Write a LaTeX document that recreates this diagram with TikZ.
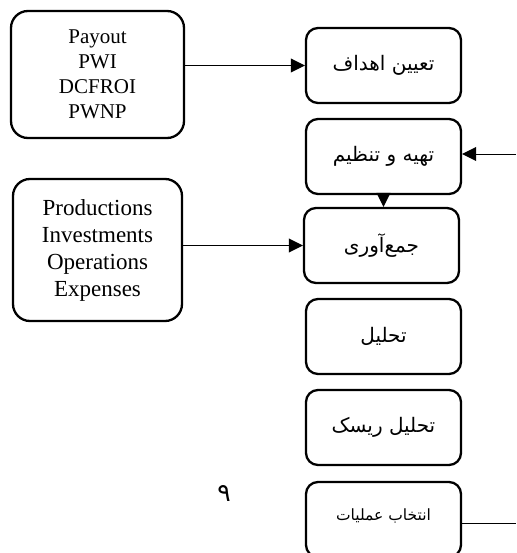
\documentclass[tikz,border=0pt]{standalone}
\usepackage{fontspec}
\setmainfont{Liberation Serif}
\newfontfamily\farsi[Script=Arabic]{DejaVu Sans}
\TeXXeTstate=1
\usetikzlibrary{arrows.meta}

\begin{document}
\begin{tikzpicture}[x=1pt,y=-1pt,
    stepbox/.style={draw,line width=2.3pt,rounded corners=12pt,inner sep=0pt,
      minimum width=155pt,minimum height=75pt,font=\farsi\fontsize{20}{24}\selectfont},
    srcbox/.style={draw,line width=2.3pt,rounded corners=17pt,align=center,inner sep=0pt},
    arr/.style={-{Triangle[length=14pt,width=14pt]}}]
  \useasboundingbox (0,0) rectangle (516,553);
  % input boxes on the left
  \node[srcbox,minimum width=173pt,minimum height=127pt,font=\fontsize{21}{25}\selectfont] (payout) at (97.5,74.5) {Payout\\PWI\\DCFROI\\PWNP};
  \node[srcbox,minimum width=169pt,minimum height=142pt,font=\fontsize{23}{27}\selectfont] (prod) at (97.5,250) {Productions\\Investments\\Operations\\Expenses};
  % steps
  \node[stepbox] (tayin) at (383.5,65.5) {\raisebox{2pt}{\beginR تعیین اهداف\endR}};
  \node[stepbox] (tahiyeh) at (383.5,156.5) {\beginR تهیه و تنظیم\endR};
  \node[stepbox] (jam) at (381.5,245.5) {\raisebox{2pt}{\beginR جمع‌آوری\endR}};
  \node[stepbox] (tahlil) at (383.5,336.5) {\raisebox{2pt}{\beginR تحلیل\endR}};
  \node[stepbox] (risk) at (383.5,427.5) {\raisebox{3pt}{\beginR تحلیل ریسک\endR}};
  \node[stepbox,font=\farsi\fontsize{15.5}{18}\selectfont] (entekhab) at (383.5,519.5) {\raisebox{9pt}{\beginR انتخاب عملیات\endR}};
  \node[font=\farsi\fontsize{25}{28}\selectfont] (nine) at (224,493) {۹};
  % connectors
  \coordinate (inR) at (516,154);
  \coordinate (outR) at (516,523);
  \draw[arr] (tayin.west -| payout.east) -- (tayin.west);
  \draw[arr] (jam.west -| prod.east) -- (jam.west);
  \draw[arr] (inR) -- (inR -| tahiyeh.east);
  \draw[arr] (tahiyeh.south) -- (tahiyeh.south |- jam.north);
  \draw (entekhab.east |- outR) -- (outR);
\end{tikzpicture}
\end{document}
